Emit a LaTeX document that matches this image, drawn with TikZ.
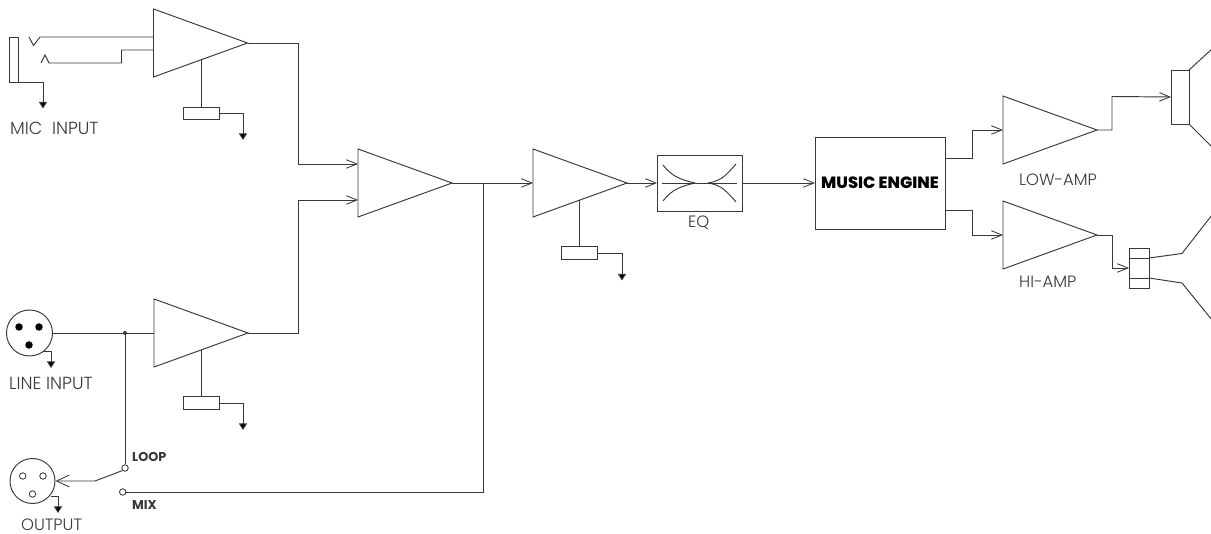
\documentclass[tikz,border=0pt]{standalone}
\usepackage{fontspec}
\setmainfont{Poppins Light}[BoldFont={Poppins Bold}]
\newfontfamily\heavyfont{Poppins ExtraBold}
\usetikzlibrary{arrows.meta,shapes.geometric,calc}
\definecolor{ink}{gray}{0.22}
\tikzset{
  x=1pt,y=-1pt,
  wire/.style={draw=ink,line width=0.95pt,line join=miter},
  sig/.style={wire,-{Straight Barb[length=10.5pt,width=8.5pt,line width=0.85pt]}},
  sigwide/.style={wire,-{Straight Barb[length=13pt,width=12pt,line width=0.85pt]}},
  gnd/.style={wire,-{Triangle[length=6.5pt,width=8pt,fill=black]}},
  amp/.style={draw=ink,line width=0.95pt,isosceles triangle,isosceles triangle apex angle=40,isosceles triangle stretches,minimum width=68pt,minimum height=94pt,inner sep=0pt,outer sep=0pt,anchor=apex},
  box/.style={draw=ink,line width=0.95pt,rectangle,inner sep=0pt,outer sep=0pt},
  pot/.style={box,minimum width=36pt,minimum height=12.5pt},
  lbl/.style={inner sep=0pt,text=ink,font=\fontsize{16.4}{17}\selectfont},
  lblwide/.style={inner sep=0pt,text=ink,font=\fontsize{17.5}{18}\selectfont},
  blbl/.style={inner sep=0pt,text=ink,font=\bfseries\fontsize{12.8}{13}\selectfont},
  pin/.style={circle,fill=black,inner sep=0pt,minimum size=7.5pt},
  hole/.style={circle,draw=ink,line width=0.85pt,fill=white,inner sep=0pt,minimum size=6.5pt},
}
\begin{document}
\begin{tikzpicture}
\useasboundingbox (0,0) rectangle (1211,534);
% amplifiers
\node[amp] (micamp) at (247.5,43) {};
\node[amp] (lineamp) at (248,333) {};
\node[amp] (mixamp) at (452,183) {};
\node[amp] (volamp) at (627,183) {};
\node[amp] (lowamp) at (1097,130) {};
\node[amp] (hiamp) at (1097,235) {};
% level pots
\node[pot] (potA) at (201,113.5) {};
\node[pot] (potB) at (201,403) {};
\node[pot] (potC) at (579.5,253) {};
\coordinate (gA) at (243,140); \coordinate (gB) at (243,430); \coordinate (gC) at (622,280.5);
\coordinate (stemA) at (201,60); \coordinate (stemB) at (201,350); \coordinate (stemC) at (579.5,200);
\draw[wire] (stemA) -- (potA.north);
\draw[wire] (stemB) -- (potB.north);
\draw[wire] (stemC) -- (potC.north);
\draw[gnd] (potA.east) -| (gA);
\draw[gnd] (potB.east) -| (gB);
\draw[gnd] (potC.east) -| (gC);
% mic jack
\node[box,minimum width=8.5pt,minimum height=45pt] (jack) at (14,59.5) {};
\coordinate (jg) at (43,108.5);
\draw[gnd] (jack.south east) -| (jg);
\coordinate (micA) at (154,37); \coordinate (micB) at (154,50);
\draw[wire] (29,37) -- (33.5,45.5) -- (40,37) -- (micA);
\draw[wire] (41,63) -- (45,55) -- (49,63) -- (121.5,63) -- (121.5,50) -- (micB);
% line input
\node[circle,draw=ink,line width=0.95pt,inner sep=0pt,minimum size=46pt] (linein) at (29.5,333) {};
\node[pin] (lp1) at (19,327) {};
\node[pin] (lp2) at (39,327) {};
\node[pin] (lp3) at (29,345) {};
\coordinate (lg) at (51,368);
\draw[gnd] (43,351) -| (lg);
\coordinate (linetap) at (125,333);
\coordinate (lineA) at (154,333);
\draw[wire] (linein.east) -- (lineA);
\fill[ink] (linetap) circle (2pt);
% output
\node[circle,draw=ink,line width=0.95pt,inner sep=0pt,minimum size=45pt] (outp) at (32.5,481) {};
\node[hole] (op1) at (22.7,476) {};
\node[hole] (op2) at (43,476) {};
\node[hole] (op3) at (32.5,494) {};
\coordinate (og) at (58,513);
\draw[gnd] (51,496) -| (og);
% switch
\node[hole] (loopc) at (125,468) {};
\node[hole] (mixc) at (122.7,492) {};
\draw[wire] (linetap) -- (loopc.north);
\draw[sigwide] (loopc.south west) -- (95,481) -- (outp.east);
\coordinate (tapdown) at (483,492);
\coordinate (tap) at (483,183);
\draw[wire] (mixc.east) -- (tapdown) -- (tap);
% signal path
\coordinate (mixA) at (358,164); \coordinate (mixB) at (358,200);
\draw[sig] (micamp.east) -- (298,43) -- (298,164) -- (mixA);
\draw[sig] (lineamp.east) -- (298,333) -- (298,200) -- (mixB);
\draw[sig] (mixamp.east) -- (volamp.west);
% EQ
\node[box,minimum width=85pt,minimum height=56pt] (eq) at (699.5,183) {};
\draw[sig] (volamp.east) -- (eq.west);
\draw[wire] (662,183) -- (737,183);
\draw[wire] (663,165) .. controls (672,177) and (682,180) .. (695,183);
\draw[wire] (663,201) .. controls (672,189) and (682,186) .. (695,183);
\draw[wire] (736,164) .. controls (727,174) and (722,181) .. (708,183);
\draw[wire] (736,202) .. controls (727,192) and (722,185) .. (708,183);
% engine
\node[box,minimum width=130pt,minimum height=92pt] (engine) at (880,183) {};
\node[inner sep=0pt,text=black,font=\heavyfont\fontsize{16.3}{17}\selectfont] (engtxt) at (880,183) {MUSIC ENGINE};
\draw[sig] (eq.east) -- (engine.west);
\draw[sig] (945,158) -- (972,158) -- (972,130) -- (lowamp.west);
\draw[sig] (945,210) -- (972,210) -- (972,235) -- (hiamp.west);
% low speaker
\node[box,minimum width=18pt,minimum height=54pt] (woof) at (1180,97) {};
\draw[sig] (lowamp.east) -- (1112,130) -- (1112,96.5) -- (woof.west);
\draw[wire] (woof.north east) -- (1212,49);
\draw[wire] (woof.south east) -- (1212,147);
% tweeter
\node[box,minimum width=20pt,minimum height=40pt] (tw) at (1139,268) {};
\draw[wire] (tw.west |- 0,258) -- (tw.east |- 0,258);
\draw[wire] (tw.west |- 0,278) -- (tw.east |- 0,278);
\draw[sig] (hiamp.east) -- (1112,235) -- (1112,268) -- (tw.west);
\draw[wire] (1149,258) -- (1182,253.5) -- (1212,215);
\draw[wire] (1149,278) -- (1182,283) -- (1212,320);
% labels
\node[lblwide,anchor=west] (t1) at (10,128) {MIC\ \ INPUT};
\node[lblwide,anchor=west] (t2) at (9,383) {LINE INPUT};
\node[lbl,anchor=west] (t3) at (21,525) {OUTPUT};
\node[blbl,anchor=west] (t4) at (132,457) {LOOP};
\node[blbl,anchor=west] (t5) at (132,505) {MIX};
\node[lbl,anchor=west] (t6) at (1019,180) {LOW-AMP};
\node[lbl,anchor=west] (t7) at (1019,282) {HI-AMP};
\node[lbl,anchor=west] (t8) at (688,223) {EQ};
\end{tikzpicture}
\end{document}
